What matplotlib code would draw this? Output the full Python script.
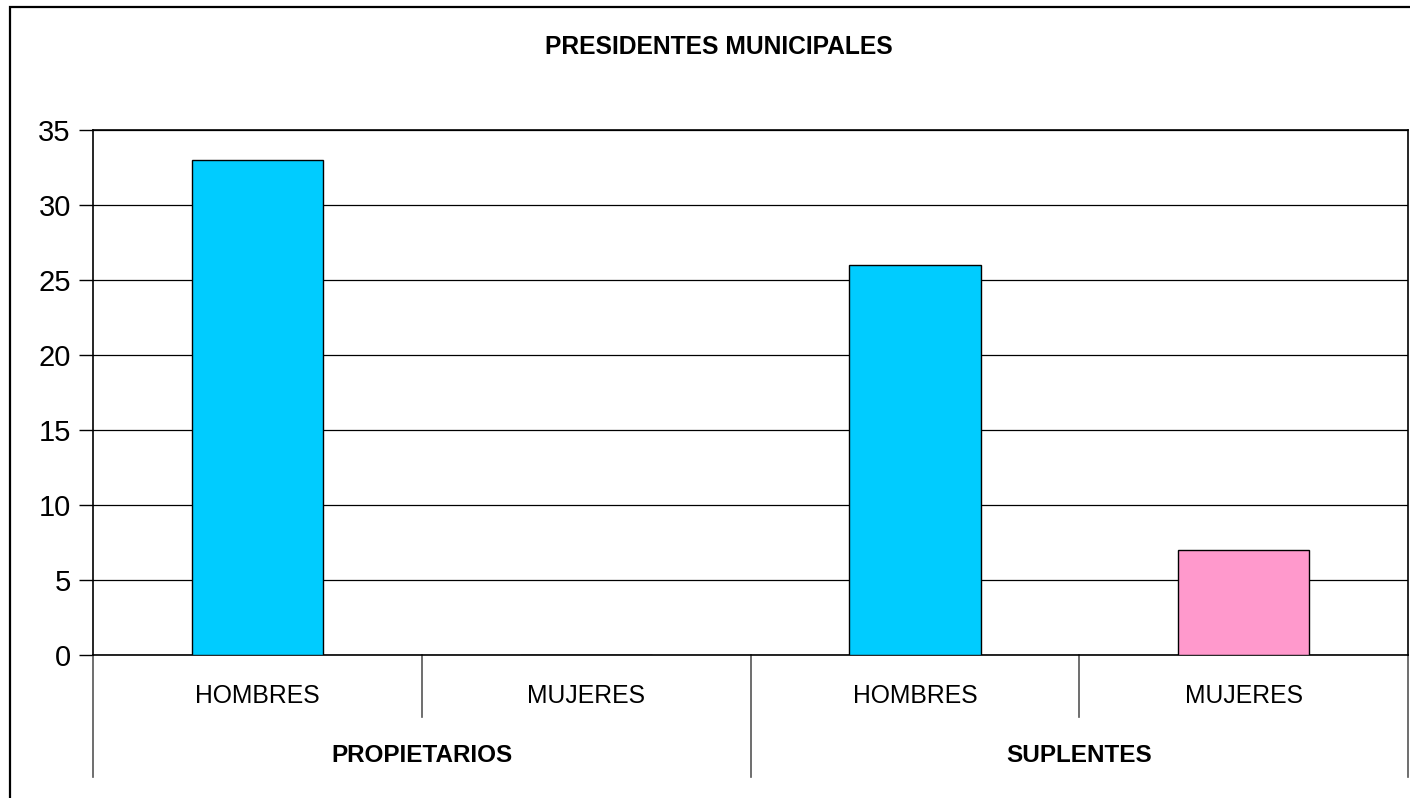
import matplotlib
matplotlib.use("Agg")
import matplotlib.pyplot as plt
from matplotlib.patches import Rectangle
from matplotlib.lines import Line2D

title = "PRESIDENTES MUNICIPALES"
groups = ["PROPIETARIOS", "SUPLENTES"]
subcats = ["HOMBRES", "MUJERES", "HOMBRES", "MUJERES"]
values = [33, 0, 26, 7]
colors = ["#00CCFF", "#FF99CC", "#00CCFF", "#FF99CC"]
yticks = [0, 5, 10, 15, 20, 25, 30, 35]

plt.rcParams['font.family'] = ['Liberation Sans', 'DejaVu Sans']

W, H = 1410, 798
fig = plt.figure(figsize=(W / 100, H / 100), dpi=100)
fig.patch.set_facecolor("white")

# outer border (right/bottom cut off)
fig.add_artist(Rectangle((10 / W, -0.1), 1.5, (H - 7) / H + 0.1, transform=fig.transFigure,
                         fill=False, edgecolor="black", linewidth=1.6))

L, R, T, B = 93, 1408, 130, 655
ax = fig.add_axes([L / W, (H - B) / H, (R - L) / W, (B - T) / H])
x = list(range(len(values)))
ax.bar(x, values, width=0.4, color=colors, edgecolor="black", linewidth=1.0, zorder=3)
ax.set_xlim(-0.5, len(values) - 0.5)
ax.set_ylim(0, 35)
ax.set_yticks(yticks)
ax.set_yticklabels([str(v) for v in yticks], fontsize=21)
ax.tick_params(axis='y', length=10, width=1, pad=6)
ax.set_xticks([])
ax.yaxis.grid(True, color="black", linewidth=0.9, zorder=0)
for s in ax.spines.values():
    s.set_color("black")
    s.set_linewidth(1.2)

ah = B - T
y_short = -(717 - B) / ah
y_long = -(777 - B) / ah
trans = ax.get_xaxis_transform()
for i in range(len(values) + 1):
    xb = i - 0.5
    yb = y_long if i % 2 == 0 else y_short
    ax.add_line(Line2D([xb, xb], [0, yb], transform=trans, color="#555555",
                       linewidth=1.2, clip_on=False))
for i, lab in enumerate(subcats):
    ax.text(i, -(696 - B) / ah, lab, transform=trans, ha="center", va="center", fontsize=17.8)
for g, lab in enumerate(groups):
    ax.text(2 * g + 0.5, -(756 - B) / ah, lab, transform=trans, ha="center", va="center",
            fontsize=17.5, fontweight="bold")

fig.text(719 / W, (H - 47) / H, title, ha="center", va="center", fontsize=17.7, fontweight="bold")

fig.savefig("out.png", dpi=100)
